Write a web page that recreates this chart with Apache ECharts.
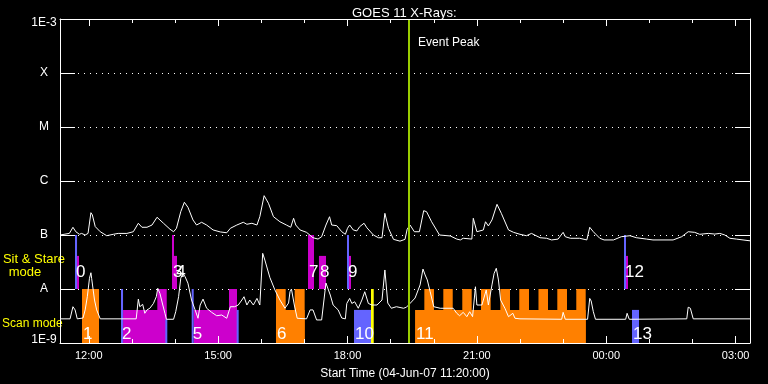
<!DOCTYPE html>
<html><head><meta charset="utf-8">
<script src="https://cdn.jsdelivr.net/npm/echarts@6/dist/echarts.min.js"></script>
<style>html,body{margin:0;padding:0;background:#000}#c{width:768px;height:384px}</style>
</head><body><div id="c"></div>
<script>
const FONT = 'Liberation Sans';
// times: minutes after 00:00 UT 04-Jun-07 ; flux in W/m^2
const axisStart = 680, axisEnd = 1640;           // 11:20 -> 03:20
const yLevelLabels = ['1E-9', 'A', 'B', 'C', 'M', 'X', '1E-3'];
const eventPeak = 1165.6;

const longChannel = [
[680,1.0e-7],[693,1.07e-7],[698,1.39e-7],[702,1.15e-7],[707,1.03e-7],[710,1.07e-7],[715,1.0e-7],[719,1.07e-7],[723,2.59e-7],[725,2.35e-7],
[729,1.43e-7],[736,1.15e-7],[745,9.7e-8],[754,1.03e-7],[761,1.07e-7],[763,9.9e-8],[773,1.07e-7],[782,1.15e-7],[789,1.65e-7],[794,1.39e-7],
[801,1.39e-7],[808,1.53e-7],[815,2.13e-7],[824,1.65e-7],[833,1.28e-7],[838,1.15e-7],[842,1.33e-7],[848,2.7e-7],[853,4.04e-7],[858,3.26e-7],
[865,1.9e-7],[870,1.53e-7],[877,1.72e-7],[884,1.53e-7],[893,1.24e-7],[903,1.14e-7],[912,1.1e-7],[917,1.33e-7],[926,1.53e-7],[935,1.72e-7],
[940,1.58e-7],[947,1.65e-7],[954,1.53e-7],[958,2.18e-7],[964,5.35e-7],[970,3.87e-7],[977,2.18e-7],[986,1.76e-7],[995,1.53e-7],[1001,1.39e-7],
[1005,2.04e-7],[1008,1.53e-7],[1014,1.24e-7],[1023,1.12e-7],[1032,8.9e-8],[1039,8.4e-8],[1044,9.3e-8],[1050,1.53e-7],[1055,2.18e-7],[1058,1.53e-7],
[1065,1.49e-7],[1072,1.15e-7],[1077,1.03e-7],[1080,1.33e-7],[1083,1.53e-7],[1088,1.24e-7],[1093,1.19e-7],[1097,1.43e-7],[1103,1.65e-7],[1107,1.36e-7],
[1116,1.0e-7],[1123,8.9e-8],[1128,8.9e-8],[1132,2.52e-7],[1137,1.33e-7],[1144,8.3e-8],[1153,7.7e-8],[1160,8.3e-8],[1163,1.28e-7],[1167,1.53e-7],
[1173,1.15e-7],[1180,1.15e-7],[1186,2.82e-7],[1190,2.7e-7],[1197,1.76e-7],[1208,1.0e-7],[1223,9.6e-8],[1232,8.4e-8],[1237,8.1e-8],[1241,8.7e-8],
[1253,8.4e-8],[1255,2.04e-7],[1260,1.15e-7],[1269,1.24e-7],[1272,1.76e-7],[1276,1.47e-7],[1281,1.9e-7],[1288,3.7e-7],[1294,2.52e-7],[1304,1.24e-7],
[1311,1.12e-7],[1320,1.03e-7],[1329,9.7e-8],[1336,1.07e-7],[1348,8.9e-8],[1357,8.7e-8],[1364,8.1e-8],[1373,8.4e-8],[1380,1.12e-7],[1383,9.3e-8],
[1390,8.7e-8],[1403,8.7e-8],[1413,8.1e-8],[1417,1.39e-7],[1422,1.15e-7],[1431,8.7e-8],[1437,8.1e-8],[1450,8.1e-8],[1461,9.3e-8],[1473,9.7e-8],
[1482,8.9e-8],[1496,8.4e-8],[1505,8.1e-8],[1533,8.1e-8],[1545,9.3e-8],[1554,1.15e-7],[1563,1.12e-7],[1570,1.03e-7],[1582,1.07e-7],[1591,1.04e-7],
[1598,1.07e-7],[1605,1.0e-7],[1612,8.7e-8],[1621,8.4e-8],[1640,7.8e-8]
];

const shortChannel = [
[680,2.8e-9],[694,2.8e-9],[698,4.7e-9],[701,4.1e-9],[704,2.8e-9],[712,2.9e-9],[715,4.1e-9],[718,7.2e-9],[721,1.58e-8],[723,2.0e-8],
[724,1.58e-8],[728,6.25e-9],[731,4.1e-9],[736,2.8e-9],[765,2.8e-9],[786,2.8e-9],[789,6.5e-9],[791,4.7e-9],[795,5.2e-9],[798,3.55e-9],
[801,4.1e-9],[805,4.4e-9],[810,5.4e-9],[814,7.2e-9],[816,1.03e-8],[819,8.3e-9],[823,5.05e-9],[826,3.55e-9],[828,2.75e-9],[838,2.75e-9],
[841,3.8e-9],[845,7.2e-9],[848,1.58e-8],[851,1.95e-8],[854,1.69e-8],[858,1.28e-8],[863,6.25e-9],[868,4.1e-9],[872,2.87e-9],[875,5.05e-9],
[879,6.5e-9],[884,4.4e-9],[891,3.7e-9],[898,3.2e-9],[905,3.3e-9],[912,2.87e-9],[917,4.7e-9],[923,4.7e-9],[928,5.05e-9],[933,6.25e-9],
[936,7.2e-9],[940,5.05e-9],[944,6.25e-9],[949,5.05e-9],[954,6.7e-9],[958,5.05e-9],[962,4.58e-8],[965,3.44e-8],[972,1.63e-8],[979,9.6e-9],
[986,6.25e-9],[993,4.4e-9],[998,5.5e-9],[1000,8.9e-9],[1002,1.0e-8],[1006,5.05e-9],[1010,2.87e-9],[1023,2.8e-9],[1028,4.1e-9],[1032,4.1e-9],
[1037,2.67e-9],[1044,2.67e-9],[1050,1.29e-8],[1056,7.74e-9],[1060,5.05e-9],[1067,4.1e-9],[1072,2.9e-9],[1077,2.8e-9],[1079,5.4e-9],[1083,6.7e-9],
[1086,5.4e-9],[1090,5.8e-9],[1095,4.4e-9],[1100,6.25e-9],[1104,8.9e-9],[1109,5.4e-9],[1114,5.05e-9],[1121,5.05e-9],[1128,6.25e-9],[1132,2.25e-8],
[1136,5.5e-9],[1141,4.4e-9],[1148,4.7e-9],[1158,4.4e-9],[1162,4.6e-9],[1167,5.4e-9],[1174,6.8e-9],[1181,1.19e-8],[1185,2.34e-8],[1188,1.82e-8],
[1191,1.47e-8],[1195,8.9e-9],[1200,4.7e-9],[1209,4.4e-9],[1227,4.4e-9],[1232,3.55e-9],[1236,3.2e-9],[1241,3.7e-9],[1246,3.07e-9],[1250,3.8e-9],
[1254,3.07e-9],[1258,1.1e-8],[1260,5.05e-9],[1267,5.05e-9],[1273,9.6e-9],[1276,5.05e-9],[1281,1.19e-8],[1284,1.95e-8],[1287,2.42e-8],[1290,1.47e-8],
[1293,6.25e-9],[1299,4.4e-9],[1304,3.07e-9],[1310,3.55e-9],[1313,2.87e-9],[1320,2.8e-9],[1378,2.75e-9],[1380,3.7e-9],[1383,2.75e-9],[1414,2.75e-9],
[1417,6.7e-9],[1419,6.0e-9],[1422,3.8e-9],[1425,2.75e-9],[1467,2.75e-9],[1469,3.55e-9],[1472,2.75e-9],[1552,2.8e-9],[1554,4.6e-9],[1557,4.4e-9],
[1561,2.8e-9],[1640,2.8e-9]
];

// observation blocks: [start, end, bottomFlux, topFlux]
const orangeObs = [
[710.6,734.3,1e-9,1e-8],
[980.5,1020.4,1e-9,4.1e-9],[980.5,994,1e-9,1e-8],[1006.5,1020.4,1e-9,1e-8],
[1174,1411.4,1e-9,4.1e-9],
[1186.9,1200.3,1e-9,1e-8],[1213.3,1226.4,1e-9,1e-8],[1239.7,1252.8,1e-9,1e-8],[1265.7,1279.2,1e-9,1e-8],
[1292.6,1306.1,1e-9,1e-8],[1319,1332.5,1e-9,1e-8],[1345.7,1359,1e-9,1e-8],[1371.9,1385.4,1e-9,1e-8],[1398.3,1411.4,1e-9,1e-8]
];
const magentaObs = [
[702.3,706.4,1e-8,4.1e-8],
[767.7,828.5,1e-9,4.1e-9],[815.4,828.5,1e-9,1e-8],
[835.8,838.6,1e-8,1e-7],[838.6,842.8,1e-8,4.1e-8],
[866,926.3,1e-9,4.1e-9],[915.1,926.3,1e-9,1e-8],
[1025,1033.4,1e-8,1e-7],[1040.3,1050.1,1e-8,4.1e-8],
[1082.1,1084.9,1e-8,4.1e-8],[1467.5,1470.3,1e-8,4.1e-8]
];
const blueObs = [
[700.9,703.7,1e-8,1e-7],[764.9,767.7,1e-9,1e-8],[826.5,829.3,1e-9,2.75e-9],[863.2,866,1e-9,1e-8],
[925.8,928.6,1e-9,4.1e-9],[1079.3,1082.1,1e-8,1e-7],[1089,1112.7,1e-9,4.1e-9],[1464.7,1467.5,1e-8,1e-7],
[1475.8,1485.6,1e-9,4.1e-9]
];
const yellowObs = [[1112.7,1116.5,1e-9,1e-8]];

const obsIds   = ['0','1','2','3','4','5','6','7','8','9','10','11','12','13'];
const obsStart = [700.9,710.6,764.9,835.8,840.5,863.2,980.5,1025,1040.3,1079.3,1089,1174,1464.7,1475.8];
const obsMode  = ['ss','scan','scan','ss','ss','scan','scan','ss','ss','ss','scan','scan','ss','scan'];

// ---------------------------------------------------------------
const minuteCats = [];
for (let m = axisStart; m <= axisEnd; m += 20) minuteCats.push(String(m));
const isHour = (i, v) => Number(v) % 60 === 0;
const isMajor = (i, v) => Number(v) % 180 === 0;
const hhmm = v => { const m = Number(v); const h = Math.floor(m / 60) % 24; const mm = m % 60;
  return String(h).padStart(2, '0') + ':' + String(mm).padStart(2, '0'); };

function rectSeries(data, color, z) {
  return {
    type: 'custom', xAxisIndex: 0, yAxisIndex: 0, z: z, silent: true,
    data: data, encode: { x: [0, 1], y: [2, 3] },
    renderItem: function (params, api) {
      const p0 = api.coord([api.value(0), api.value(2)]);
      const p1 = api.coord([api.value(1), api.value(3)]);
      return { type: 'rect', shape: { x: p0[0], y: p1[1], width: p1[0] - p0[0], height: p0[1] - p1[1] },
               style: { fill: color } };
    }
  };
}

function catAxis(pos, len, intervalFn, withLine, withLabel) {
  const a = {
    type: 'category', data: minuteCats, boundaryGap: false, position: pos, z: 5,
    axisLine: { show: withLine, lineStyle: { color: '#fff', width: 1 } },
    axisTick: { show: true, inside: true, length: len, interval: intervalFn, lineStyle: { color: '#fff', width: 1 } },
    axisLabel: { show: withLabel, interval: isMajor, formatter: hhmm, color: '#fff', fontSize: 11, fontFamily: FONT, margin: 7 },
    splitLine: { show: false }
  };
  if (withLabel) {
    a.name = 'Start Time (04-Jun-07 11:20:00)';
    a.nameLocation = 'middle';
    a.nameGap = 25;
    a.nameTextStyle = { color: '#fff', fontSize: 12, fontFamily: FONT };
  }
  return a;
}

const yLabelFmt = v => {
  const e = Math.round(Math.log10(v));
  const t = yLevelLabels[e + 9];
  if (e === -9) return '{lo|' + t + '}';
  if (e === -3) return '{hi|' + t + '}';
  return t;
};

const chart = echarts.init(document.getElementById('c'), null, { renderer: 'canvas' });
chart.setOption({
  backgroundColor: '#000',
  animation: false,
  title: { text: 'GOES 11 X-Rays:', left: 347, top: 2,
           textStyle: { color: '#fff', fontSize: 13, fontWeight: 'normal', fontFamily: FONT } },
  grid: { left: 60, right: 18, top: 19, bottom: 41, outerBoundsMode: 'none' },
  xAxis: [
    { type: 'value', min: axisStart, max: axisEnd, show: false },
    catAxis('bottom', 4, isHour, true, true),
    catAxis('bottom', 7, isMajor, false, false),
    catAxis('top', 4, isHour, true, false),
    catAxis('top', 7, isMajor, false, false)
  ],
  yAxis: [
    { type: 'log', logBase: 10, min: 1e-9, max: 1e-3, splitNumber: 6, position: 'left',
      axisLine: { show: true, lineStyle: { color: '#fff' } },
      axisTick: { show: true, inside: true, length: 15, lineStyle: { color: '#fff' } },
      axisLabel: { color: '#fff', fontSize: 12, fontFamily: FONT, align: 'center', margin: 16, formatter: yLabelFmt,
        rich: { lo: { color: '#fff', fontSize: 12, fontFamily: FONT, padding: [0, 0, 6, 0] },
                hi: { color: '#fff', fontSize: 12, fontFamily: FONT, padding: [8, 0, 0, 0] } } },
      splitLine: { show: true, lineStyle: { color: '#fff', width: 1, type: [1, 5] } }
    },
    { type: 'log', logBase: 10, min: 1e-9, max: 1e-3, splitNumber: 6, position: 'right',
      axisLine: { show: true, lineStyle: { color: '#fff' } },
      axisTick: { show: true, inside: true, length: 15, lineStyle: { color: '#fff' } },
      axisLabel: { show: false }, splitLine: { show: false }
    }
  ],
  graphic: [
    { type: 'text', x: 34, y: 259, style: { text: 'Sit & Stare', fill: '#ffff00', font: '13px "Liberation Sans"', align: 'center', verticalAlign: 'middle' } },
    { type: 'text', x: 25, y: 272, style: { text: 'mode', fill: '#ffff00', font: '13px "Liberation Sans"', align: 'center', verticalAlign: 'middle' } },
    { type: 'text', x: 2, y: 324, style: { text: 'Scan mode', fill: '#ffff00', font: '12px "Liberation Sans"', align: 'left', verticalAlign: 'middle' } }
  ],
  series: [
    rectSeries(orangeObs, '#ff8000', 2),
    rectSeries(magentaObs, '#cc00cc', 2),
    rectSeries(blueObs, '#6464ff', 2),
    rectSeries(yellowObs, '#ffff00', 2),
    { type: 'line', xAxisIndex: 0, yAxisIndex: 0, z: 3, data: shortChannel, showSymbol: false, silent: true,
      lineStyle: { color: '#fff', width: 1 } },
    { type: 'line', xAxisIndex: 0, yAxisIndex: 0, z: 3, data: longChannel, showSymbol: false, silent: true,
      lineStyle: { color: '#fff', width: 1 },
      markLine: { silent: true, symbol: 'none', animation: false,
        data: [{ xAxis: eventPeak }],
        lineStyle: { color: '#9acd00', width: 2, type: 'solid' }, label: { show: false } },
      markPoint: { silent: true, symbol: 'circle', symbolSize: 0,
        data: [{ coord: [eventPeak, 3.6e-4] }],
        label: { show: true, position: 'right', distance: 9, formatter: 'Event Peak', color: '#fff', fontSize: 12, fontFamily: FONT } }
    },
    { type: 'custom', xAxisIndex: 0, yAxisIndex: 0, z: 4, silent: true,
      data: obsStart.map((t, i) => [t, obsMode[i] === 'ss' ? 1e-8 : 1e-9, i]),
      encode: { x: 0, y: 1 },
      renderItem: function (params, api) {
        const i = api.value(2);
        const ss = obsMode[i] === 'ss';
        const p = api.coord([api.value(0), api.value(1)]);
        return { type: 'text', x: p[0] + 1, y: p[1] - (ss ? 17 : 9),
          style: { text: obsIds[i], fill: '#fff', font: '17px "Liberation Sans"', align: 'left', verticalAlign: 'middle' } };
      }
    }
  ]
});
</script>
</body></html>
